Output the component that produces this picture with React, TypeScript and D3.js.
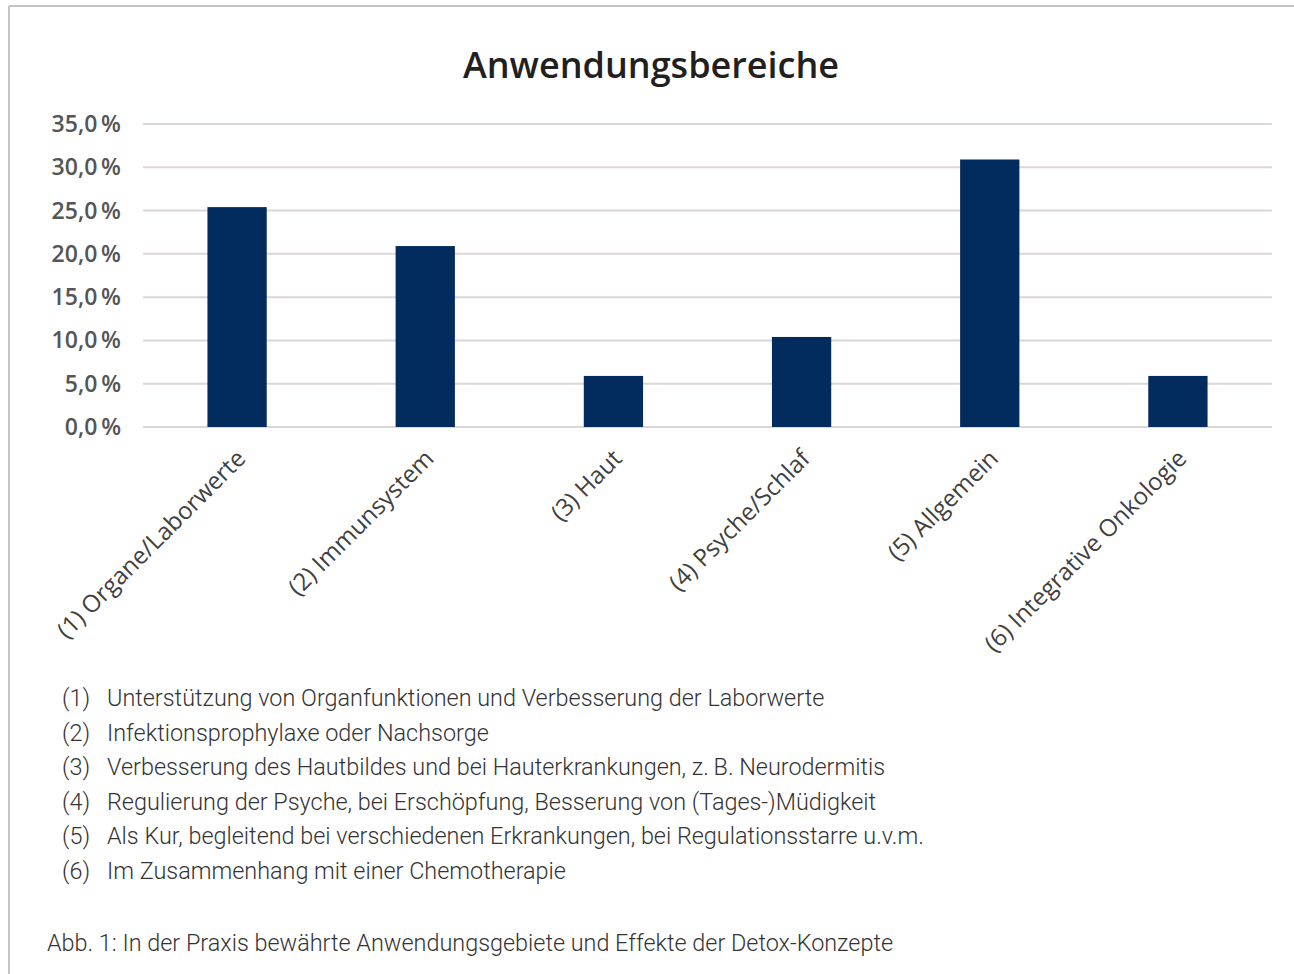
import { useEffect, useRef } from 'react';
import * as d3 from 'd3';

const WIDTH = 1294;
const HEIGHT = 974;

const categories = [
  '(1) Organe/Laborwerte',
  '(2) Immunsystem',
  '(3) Haut',
  '(4) Psyche/Schlaf',
  '(5) Allgemein',
  '(6) Integrative Onkologie',
];
const shares = [25.4, 20.9, 5.9, 10.4, 30.9, 5.9];
const yTicks = [0, 5, 10, 15, 20, 25, 30, 35];

const legendKeys = ['(1)', '(2)', '(3)', '(4)', '(5)', '(6)'];
const legendTexts = [
  'Unterstützung von Organfunktionen und Verbesserung der Laborwerte',
  'Infektionsprophylaxe oder Nachsorge',
  'Verbesserung des Hautbildes und bei Hauterkrankungen, z.\u2009B. Neurodermitis',
  'Regulierung der Psyche, bei Erschöpfung, Besserung von (Tages-)Müdigkeit',
  'Als Kur, begleitend bei verschiedenen Erkrankungen, bei Regulationsstarre u.v.m.',
  'Im Zusammenhang mit einer Chemotherapie',
];
const title = 'Anwendungsbereiche';
const caption = 'Abb. 1: In der Praxis bewährte Anwendungsgebiete und Effekte der Detox-Konzepte';

const BAR_COLOR = '#022b5e';
const GRID_COLOR = '#dcd6d4';
const CHART_FONT = '"Open Sans", Lato, sans-serif';
const TEXT_FONT = 'Roboto, sans-serif';

const PLOT = { left: 143, right: 1272, top: 124, bottom: 427 };

export default function App() {
  const svgRef = useRef<SVGSVGElement>(null);

  useEffect(() => {
    if (!svgRef.current) return;
    const svg = d3.select(svgRef.current);
    svg.selectAll('*').remove();

    svg.append('rect').attr('width', WIDTH).attr('height', HEIGHT).attr('fill', '#fff');

    // frame: top and left edges only
    svg.append('line')
      .attr('x1', 9).attr('x2', WIDTH).attr('y1', 6).attr('y2', 6)
      .attr('stroke', '#c4c4c4').attr('stroke-width', 2);
    svg.append('line')
      .attr('x1', 9).attr('x2', 9).attr('y1', 6).attr('y2', HEIGHT)
      .attr('stroke', '#c4c4c4').attr('stroke-width', 2);

    // ── Scales ──────────────────────────────────────────────────────
    const x = d3.scaleBand<string>()
      .domain(categories)
      .range([PLOT.left, PLOT.right])
      .paddingInner(0.685)
      .paddingOuter(0.3425);

    const y = d3.scaleLinear()
      .domain([0, 35])
      .range([PLOT.bottom, PLOT.top]);

    // ── Title ───────────────────────────────────────────────────────
    svg.append('text')
      .attr('x', 651).attr('y', 78)
      .attr('text-anchor', 'middle')
      .attr('fill', '#231f20')
      .attr('font-family', '"Open Sans", sans-serif')
      .attr('font-weight', 600)
      .attr('font-size', '36px')
      .text(title);

    // ── Grid + y labels ─────────────────────────────────────────────
    svg.append('g')
      .selectAll('line')
      .data(yTicks)
      .join('line')
      .attr('x1', PLOT.left).attr('x2', PLOT.right)
      .attr('y1', (d) => y(d)).attr('y2', (d) => y(d))
      .attr('stroke', GRID_COLOR)
      .attr('stroke-width', 2);

    svg.append('g')
      .selectAll('text')
      .data(yTicks)
      .join('text')
      .attr('x', 121)
      .attr('y', (d) => y(d) + 8)
      .attr('text-anchor', 'end')
      .attr('fill', '#555')
      .attr('font-family', CHART_FONT)
      .attr('font-weight', 600)
      .attr('font-size', '23px')
      .text((d) => `${d.toFixed(1).replace('.', ',')}\u2009%`);

    // ── Bars ────────────────────────────────────────────────────────
    svg.append('g')
      .selectAll('rect')
      .data(shares)
      .join('rect')
      .attr('x', (_, i) => x(categories[i])!)
      .attr('width', x.bandwidth())
      .attr('y', (d) => y(d))
      .attr('height', (d) => y(0) - y(d))
      .attr('fill', BAR_COLOR);

    // ── Category labels (rotated) ───────────────────────────────────
    svg.append('g')
      .selectAll('text')
      .data(categories)
      .join('text')
      .attr('transform', (d) => `translate(${x(d)! + x.bandwidth() / 2 + 10},${PLOT.bottom + 33}) rotate(-45)`)
      .attr('text-anchor', 'end')
      .attr('fill', '#404040')
      .attr('font-family', CHART_FONT)
      .attr('font-size', '24px')
      .text((d) => d);

    // ── Legend list ─────────────────────────────────────────────────
    const legend = svg.append('g');
    legendKeys.forEach((k, i) => {
      const ly = 706 + i * 34.6;
      legend.append('text')
        .attr('x', 62).attr('y', ly)
        .attr('fill', '#333')
        .attr('font-family', TEXT_FONT)
        .attr('font-weight', 300)
        .attr('font-size', '23.4px')
        .text(k);
      legend.append('text')
        .attr('x', 107).attr('y', ly)
        .attr('fill', '#333')
        .attr('font-family', TEXT_FONT)
        .attr('font-weight', 300)
        .attr('font-size', '23.4px')
        .text(legendTexts[i]);
    });

    svg.append('text')
      .attr('x', 47).attr('y', 951)
      .attr('fill', '#333')
      .attr('font-family', TEXT_FONT)
      .attr('font-weight', 300)
      .attr('font-size', '23.4px')
      .text(caption);
  }, []);

  return (
    <svg
      ref={svgRef}
      width={WIDTH}
      height={HEIGHT}
      style={{ position: 'absolute', left: 0, top: 0, display: 'block' }}
    />
  );
}
